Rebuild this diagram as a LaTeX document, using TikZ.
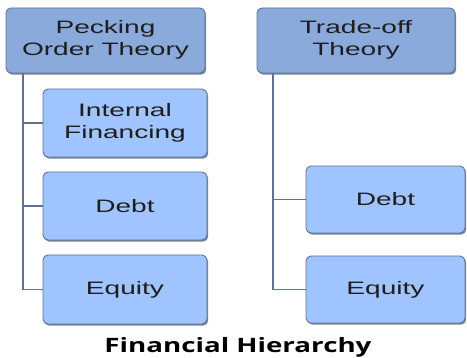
\documentclass[tikz,border=0pt]{standalone}
\usepackage{fontspec}
\setmainfont{Liberation Sans}
\newfontfamily\titlefont{Open Sans}
\usetikzlibrary{shadows}
\definecolor{topfill}{HTML}{8AAADC}
\definecolor{childfill}{HTML}{A0C4FF}
\definecolor{edgecol}{HTML}{5F7391}
\definecolor{txtcol}{HTML}{1E1E1E}
\newcommand{\wide}[1]{\scalebox{1.56}[1]{#1}}
\newcommand{\twoline}[2]{\scalebox{1.56}[1]{\begin{tabular}{@{}c@{}}#1\\#2\end{tabular}}}
\tikzset{
  box/.style={draw=edgecol, line width=0.9pt, rounded corners=5pt, inner sep=0pt,
    text=txtcol, font=\fontsize{18}{22}\selectfont,
    drop shadow={shadow xshift=1.2pt, shadow yshift=-1.6pt, fill=edgecol!80!black, opacity=0.75}},
  topbox/.style={box, fill=topfill},
  childbox/.style={box, fill=childfill},
  conn/.style={draw=edgecol, line width=1.8pt},
}
\begin{document}
\begin{tikzpicture}[x=1pt,y=-1pt]
\useasboundingbox (0,0) rectangle (467,358);
\node[topbox, minimum width=199pt, minimum height=65pt] (pot) at (105.5,40.5) {\twoline{Pecking}{Order Theory}};
\node[childbox, minimum width=164pt, minimum height=68pt] (ifin) at (125,123) {\twoline{Internal}{Financing}};
\node[childbox, minimum width=164pt, minimum height=68pt] (debtL) at (125,206) {\wide{Debt}};
\node[childbox, minimum width=164pt, minimum height=69pt] (eqL) at (125,289.5) {\wide{Equity}};
\node[topbox, minimum width=198pt, minimum height=65pt] (tot) at (356,40.5) {\twoline{Trade-off}{Theory}};
\node[childbox, minimum width=159pt, minimum height=67pt] (debtR) at (385.5,199.5) {\wide{Debt}};
\node[childbox, minimum width=159pt, minimum height=67pt] (eqR) at (385.5,289.5) {\wide{Equity}};
\coordinate (sL) at (23,73.5);
\coordinate (sR) at (273,73.5);
\draw[conn] (sL) |- (eqL.west);
\draw[conn] (sL |- ifin.west) -- (ifin.west);
\draw[conn] (sL |- debtL.west) -- (debtL.west);
\draw[conn] (sR) |- (eqR.west);
\draw[conn] (sR |- debtR.west) -- (debtR.west);
\node[anchor=base, inner sep=0pt, font=\titlefont\bfseries\fontsize{19.8}{22}\selectfont] (title) at (238,353) {\scalebox{1.4}[1]{Financial Hierarchy}};
\end{tikzpicture}
\end{document}
